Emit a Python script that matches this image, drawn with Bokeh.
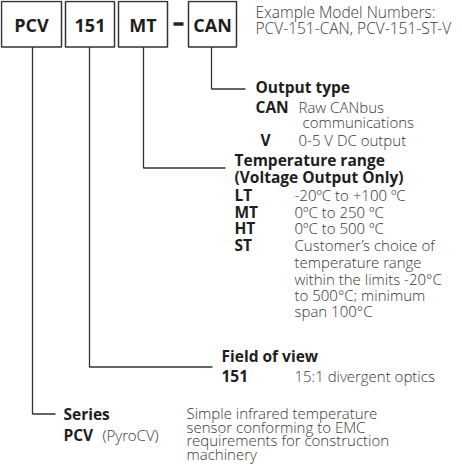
from bokeh.plotting import figure
from bokeh.models import Range1d
from bokeh.core.properties import value
from bokeh.embed import file_html
from bokeh.resources import INLINE

# ---- content ----
codes = ["PCV", "151", "MT", "CAN"]
example_lines = ["Example Model Numbers:", "PCV-151-CAN, PCV-151-ST-V"]

out_heading = ["Output type"]
out_keys = ["CAN", "V"]
out_desc = ["Raw CANbus", "communications", "0-5 V DC output"]

temp_heading = ["Temperature range", "(Voltage Output Only)"]
temp_keys = ["LT", "MT", "HT", "ST"]
temp_desc = ["-20ºC to +100 ºC", "0ºC to 250 ºC", "0ºC to 500 ºC",
             "Customer’s choice of", "temperature range",
             "within the limits -20°C", "to 500°C; minimum", "span 100°C"]

fov_heading = ["Field of view"]
fov_keys = ["151"]
fov_desc = ["15:1 divergent optics"]

series_heading = ["Series"]
series_keys = ["PCV"]
series_note = ["(PyroCV)"]
series_desc = ["Simple infrared temperature", "sensor conforming to EMC",
               "requirements for construction", "machinery"]

# ---- layout (diagram coordinates, px) ----
box_left = [4, 68, 121, 191]
box_right = [64, 117, 170, 239]
box_top, box_bottom = 5, 51
stem_x = [35, 92, 146, 214]
stem_end_y = [418, 371, 172, 93]
stem_end_x = [58, 215, 228, 248]

BOLD = value("Open Sans")
LIGHT = value("'Open Sans Light', 'Open Sans'")
DARK = "#1e1e1e"
GREY = "#3a3a3a"
DY = 2  # text vertical nudge

p = figure(width=454, height=464, output_backend="svg", toolbar_location=None,
           x_range=Range1d(3, 457), y_range=Range1d(468.5, 4.5),
           min_border=0)
p.axis.visible = False
p.grid.visible = False
p.outline_line_color = None
p.background_fill_color = "white"
p.border_fill_color = "white"

# connectors
xs = [[sx, sx, ex] for sx, ex in zip(stem_x, stem_end_x)]
ys = [[box_bottom, ey, ey] for ey in stem_end_y]
p.multi_line(xs=xs, ys=ys, line_color="#333333", line_width=1.3)

# boxes
p.quad(left=box_left, right=box_right, top=[box_top + 0.5] * 4, bottom=[box_bottom] * 4,
       fill_color="white", line_color="#333333", line_width=1.5)
p.text(x=[(l + r) / 2 for l, r in zip(box_left, box_right)], y=[29] * 4, text=codes,
       text_font=BOLD, text_font_style="bold", text_font_size="18px",
       text_color=DARK, text_align="center", text_baseline="middle")
# dash between MT and CAN
p.segment(x0=[176], y0=[28], x1=[186], y1=[28], line_color="#222222", line_width=3.5)


def txt(xv, yv, labels, bold=False, size="15px", color=None):
    p.text(x=xv, y=[v + DY for v in yv], text=labels,
           text_font=BOLD if bold else LIGHT,
           text_font_style="bold" if bold else "normal",
           text_font_size=size, text_color=color or (DARK if bold else GREY),
           text_align="left", text_baseline="middle")


HEAD = "15.5px"

# example model numbers
txt([258, 258], [14, 30], example_lines, size="15.5px")

# output type block
txt([258], [89], out_heading, bold=True, size=HEAD)
txt([258, 263], [109, 142], out_keys, bold=True, size=HEAD)
txt([301, 305, 301], [109, 124, 142], out_desc)

# temperature block
txt([237, 237], [162, 179], temp_heading, bold=True, size=HEAD)
txt([237] * 4, [197, 214, 230, 247], temp_keys, bold=True, size=HEAD)
txt([297] * 8, [197, 214, 230, 247, 264, 281, 297, 313], temp_desc)

# field of view block
txt([224], [358], fov_heading, bold=True, size=HEAD)
txt([224], [378], fov_keys, bold=True, size=HEAD)
txt([297], [378], fov_desc)

# series block
txt([66], [416], series_heading, bold=True, size=HEAD)
txt([66], [437], series_keys, bold=True, size=HEAD)
txt([105], [437], series_note)
txt([189] * 4, [415, 428.5, 442, 455.5], series_desc)

open("out.html", "w").write(file_html(p, INLINE))
